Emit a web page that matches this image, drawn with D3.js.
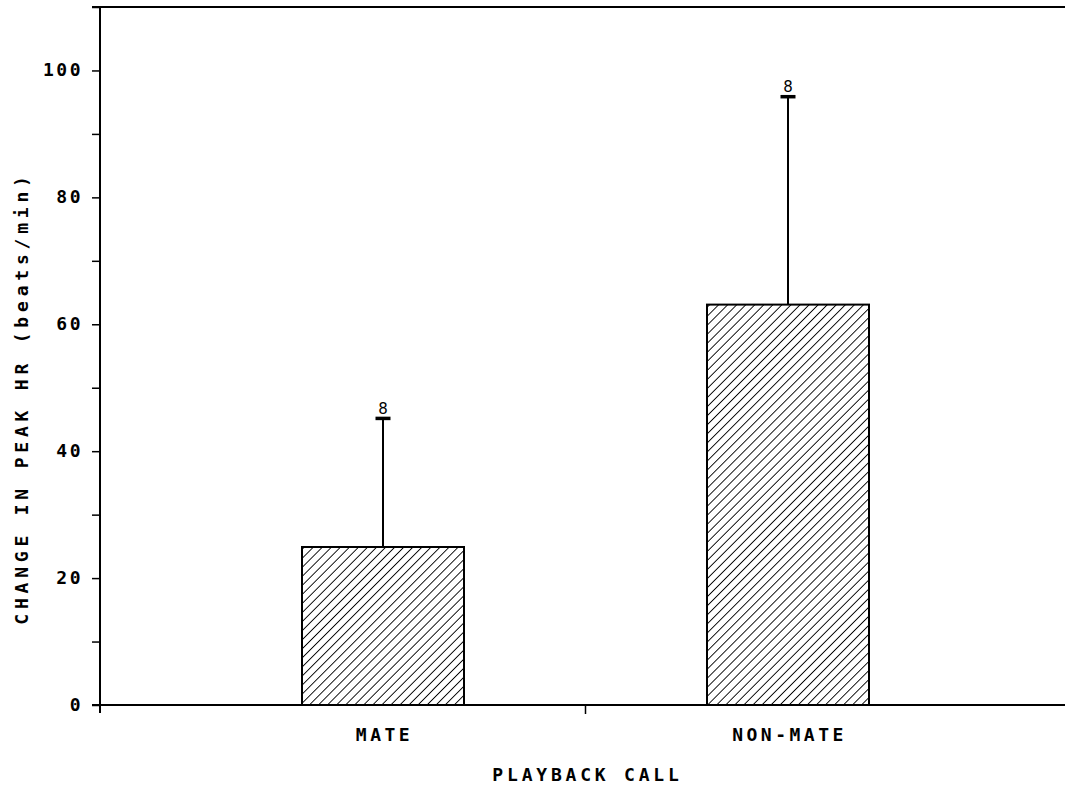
<!DOCTYPE html>
<html><head><meta charset="utf-8">
<script src="https://cdn.jsdelivr.net/npm/d3@7"></script>
<style>body{margin:0;background:#fff}svg{display:block}</style>
</head><body>
<script>
const categories = ["MATE", "NON-MATE"];
const means = [24.9, 63.1];
const sds = [20.5, 33.0];
const nLabels = ["8", "8"];
const yTicks = [0, 10, 20, 30, 40, 50, 60, 70, 80, 90, 100, 110];
const yTickLabels = [0, 20, 40, 60, 80, 100];
const xTitle = "PLAYBACK CALL";
const yTitle = "CHANGE IN PEAK HR (beats/min)";

const W = 1065, H = 788;
const svg = d3.select("body").append("svg").attr("width", W).attr("height", H);

const y = d3.scaleLinear().domain([0, 110]).range([705, 7]);
const x = d3.scaleBand().domain(categories).range([180.5, 990.5]).paddingInner(0.6).paddingOuter(0.3);
const axX = 100, leftExt = 92, rightEnd = 1065;
const mono = "'DejaVu Sans Mono','Liberation Mono',monospace";

// hatch pattern
const defs = svg.append("defs");
const pat = defs.append("pattern").attr("id", "hatch").attr("patternUnits", "userSpaceOnUse")
  .attr("width", 6.4).attr("height", 6.4).attr("patternTransform", "rotate(45)");
pat.append("rect").attr("width", 6.4).attr("height", 6.4).attr("fill", "#fff");
pat.append("line").attr("x1", 0).attr("y1", 0).attr("x2", 0).attr("y2", 6.4)
  .attr("stroke", "#000").attr("stroke-width", 1.8);

// frame lines
svg.append("line").attr("x1", leftExt).attr("x2", rightEnd).attr("y1", y(110)).attr("y2", y(110))
  .attr("stroke", "#000").attr("stroke-width", 2.2);

// bars
svg.selectAll("rect.bar").data(categories).join("rect").attr("class", "bar")
  .attr("x", d => x(d)).attr("width", x.bandwidth())
  .attr("y", (d, i) => y(means[i])).attr("height", (d, i) => y(0) - y(means[i]))
  .attr("fill", "url(#hatch)").attr("stroke", "#000").attr("stroke-width", 2);

// error bars
categories.forEach((c, i) => {
  const cx = x(c) + x.bandwidth() / 2;
  svg.append("line").attr("x1", cx).attr("x2", cx).attr("y1", y(means[i])).attr("y2", y(means[i] + sds[i]))
    .attr("stroke", "#000").attr("stroke-width", 2);
  svg.append("line").attr("x1", cx - 7.5).attr("x2", cx + 7.5)
    .attr("y1", y(means[i] + sds[i]) + 1.5).attr("y2", y(means[i] + sds[i]) + 1.5)
    .attr("stroke", "#000").attr("stroke-width", 3.5);
  svg.append("text").attr("x", cx).attr("y", y(means[i] + sds[i]) - 3)
    .attr("text-anchor", "middle").attr("font-family", "'DejaVu Sans',sans-serif")
    .attr("font-size", 15).text(nLabels[i]);
});

// y axis
const yAxis = d3.axisLeft(y).tickValues(yTicks).tickSize(8).tickFormat("");
const gy = svg.append("g").attr("transform", `translate(${axX},0)`).call(yAxis);
gy.select(".domain").remove();
gy.selectAll(".tick line").attr("stroke", "#000").attr("stroke-width", 1.5);
svg.append("line").attr("x1", axX).attr("x2", axX).attr("y1", y(110) - 1).attr("y2", y(0) + 8)
  .attr("stroke", "#000").attr("stroke-width", 2);
svg.selectAll("text.ytl").data(yTickLabels).join("text").attr("class", "ytl")
  .attr("x", 83).attr("y", d => y(d) + 6).attr("text-anchor", "end")
  .attr("font-family", mono).attr("font-weight", "bold").attr("font-size", 18)
  .attr("letter-spacing", 2.5).text(d => d);

// x axis
svg.append("line").attr("x1", leftExt).attr("x2", rightEnd).attr("y1", y(0)).attr("y2", y(0))
  .attr("stroke", "#000").attr("stroke-width", 2.2);
const midX = (x(categories[0]) + x(categories[1]) + x.bandwidth()) / 2;
svg.append("line").attr("x1", midX).attr("x2", midX).attr("y1", y(0)).attr("y2", y(0) + 9)
  .attr("stroke", "#000").attr("stroke-width", 1.5);
svg.selectAll("text.xtl").data(categories).join("text").attr("class", "xtl")
  .attr("x", d => x(d) + x.bandwidth() / 2 + 1.5).attr("y", 741).attr("text-anchor", "middle")
  .attr("font-family", mono).attr("font-weight", "bold").attr("font-size", 18)
  .attr("letter-spacing", 3.5).text(d => d);

svg.append("text").attr("x", midX + 2).attr("y", 781).attr("text-anchor", "middle")
  .attr("font-family", mono).attr("font-weight", "bold").attr("font-size", 18)
  .attr("letter-spacing", 3.8).text(xTitle);

svg.append("text").attr("transform", `translate(28,${398}) rotate(-90)`).attr("text-anchor", "middle")
  .attr("font-family", mono).attr("font-weight", "bold").attr("font-size", 18)
  .attr("letter-spacing", 4.8).text(yTitle);
</script>
</body></html>
